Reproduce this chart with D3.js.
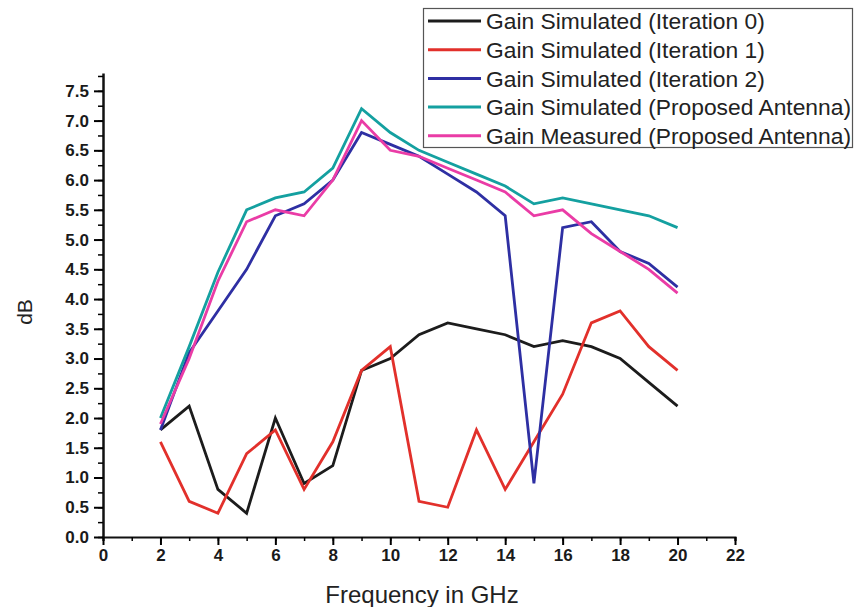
<!DOCTYPE html>
<html>
<head>
<meta charset="utf-8">
<script src="https://cdn.jsdelivr.net/npm/d3@7"></script>
<style>
  body { margin: 0; background: #fff; }
  svg { display: block; font-family: "Liberation Sans", Arial, sans-serif; }
</style>
</head>
<body>
<svg id="chart" width="856" height="607"></svg>
<script>
// frequency points (GHz)
const freqs = [2, 3, 4, 5, 6, 7, 8, 9, 10, 11, 12, 13, 14, 15, 16, 17, 18, 19, 20];

// gain values in dB
const iter0 = [1.8, 2.2, 0.8, 0.4, 2.0, 0.9, 1.2, 2.8, 3.0, 3.4, 3.6, 3.5, 3.4, 3.2, 3.3, 3.2, 3.0, 2.6, 2.2];
const iter1 = [1.6, 0.6, 0.4, 1.4, 1.8, 0.8, 1.6, 2.8, 3.2, 0.6, 0.5, 1.8, 0.8, 1.6, 2.4, 3.6, 3.8, 3.2, 2.8];
const iter2 = [1.8, 3.1, 3.8, 4.5, 5.4, 5.6, 6.0, 6.8, 6.6, 6.4, 6.1, 5.8, 5.4, 0.9, 5.2, 5.3, 4.8, 4.6, 4.2];
const proposedSim = [2.0, 3.2, 4.45, 5.5, 5.7, 5.8, 6.2, 7.2, 6.8, 6.5, 6.3, 6.1, 5.9, 5.6, 5.7, 5.6, 5.5, 5.4, 5.2];
const proposedMeas = [1.9, 3.0, 4.3, 5.3, 5.5, 5.4, 6.0, 7.0, 6.5, 6.4, 6.2, 6.0, 5.8, 5.4, 5.5, 5.1, 4.8, 4.5, 4.1];

const seriesNames = [
    'Gain Simulated (Iteration 0)',
    'Gain Simulated (Iteration 1)',
    'Gain Simulated (Iteration 2)',
    'Gain Simulated (Proposed Antenna)',
    'Gain Measured (Proposed Antenna)'
];
const seriesColors = ['#1c1c1c', '#e2302b', '#2e2fa3', '#14a0a0', '#ea3ca6'];
const seriesValues = [iter0, iter1, iter2, proposedSim, proposedMeas];

const xTicks = d3.range(0, 23, 2);
const yTicks = d3.range(0, 7.51, 0.5);

const svg = d3.select('#chart');
const x = d3.scaleLinear().domain([0, 22]).range([103, 735]);
const y = d3.scaleLinear().domain([0, 7.8]).range([537, 73]);

// x axis: minor ticks every 1 GHz, labelled majors every 2
const xAxis = svg.append('g').attr('transform', `translate(0,${y(0)})`);
xAxis.call(d3.axisBottom(x).tickValues(d3.range(0, 23, 1)).tickSize(4).tickFormat(''));
xAxis.selectAll('.tick line').attr('stroke-width', 1.5);
xAxis.select('.domain').attr('stroke-width', 2).attr('stroke', '#111');
const xMajor = svg.append('g').attr('transform', `translate(0,${y(0)})`);
xMajor.call(d3.axisBottom(x).tickValues(xTicks).tickSize(8).tickPadding(4).tickFormat(d3.format('d')));
xMajor.select('.domain').remove();
xMajor.selectAll('.tick line').attr('stroke-width', 2);
xMajor.selectAll('.tick text')
    .attr('font-size', 17).attr('font-weight', 'bold').attr('fill', '#1a1a1a')
    .attr('font-family', '"Liberation Sans", Arial, sans-serif');

// y axis
const yAxis = svg.append('g').attr('transform', `translate(${x(0)},0)`);
yAxis.call(d3.axisLeft(y).tickValues(d3.range(0, 7.8, 0.25)).tickSize(5).tickFormat('').tickSizeOuter(0));
yAxis.selectAll('.tick line').attr('stroke-width', 1.5);
yAxis.select('.domain').attr('stroke-width', 2.5).attr('stroke', '#111');
const yMajor = svg.append('g').attr('transform', `translate(${x(0)},0)`);
yMajor.call(d3.axisLeft(y).tickValues(yTicks).tickSize(9).tickPadding(5).tickFormat(d3.format('.1f')));
yMajor.select('.domain').remove();
yMajor.selectAll('.tick line').attr('stroke-width', 2);
yMajor.selectAll('.tick text')
    .attr('font-size', 17).attr('font-weight', 'bold').attr('fill', '#1a1a1a')
    .attr('font-family', '"Liberation Sans", Arial, sans-serif');

// axis titles
svg.append('text')
    .attr('x', 422).attr('y', 603)
    .attr('text-anchor', 'middle')
    .attr('font-size', 24).attr('fill', '#222')
    .text('Frequency in GHz');
svg.append('text')
    .attr('transform', 'translate(32,312) rotate(-90)')
    .attr('text-anchor', 'middle')
    .attr('font-size', 21).attr('fill', '#222')
    .text('dB');

// lines
const line = d3.line()
    .x((d, i) => x(freqs[i]))
    .y(d => y(d));

seriesValues.forEach((vals, i) => {
    svg.append('path')
        .datum(vals)
        .attr('fill', 'none')
        .attr('stroke', seriesColors[i])
        .attr('stroke-width', 2.8)
        .attr('d', line);
});

// legend
const legend = svg.append('g');
legend.append('rect')
    .attr('x', 423.5).attr('y', 8.5)
    .attr('width', 429).attr('height', 139)
    .attr('fill', '#fff')
    .attr('stroke', '#555').attr('stroke-width', 1.2);

seriesNames.forEach((name, i) => {
    const cy = 21 + i * 28.7;
    legend.append('line')
        .attr('x1', 428).attr('x2', 481)
        .attr('y1', cy).attr('y2', cy)
        .attr('stroke', seriesColors[i]).attr('stroke-width', 3);
    legend.append('text')
        .attr('x', 486).attr('y', cy)
        .attr('dy', '0.36em')
        .attr('font-size', 22.8).attr('fill', '#222')
        .text(name);
});
</script>
</body>
</html>
